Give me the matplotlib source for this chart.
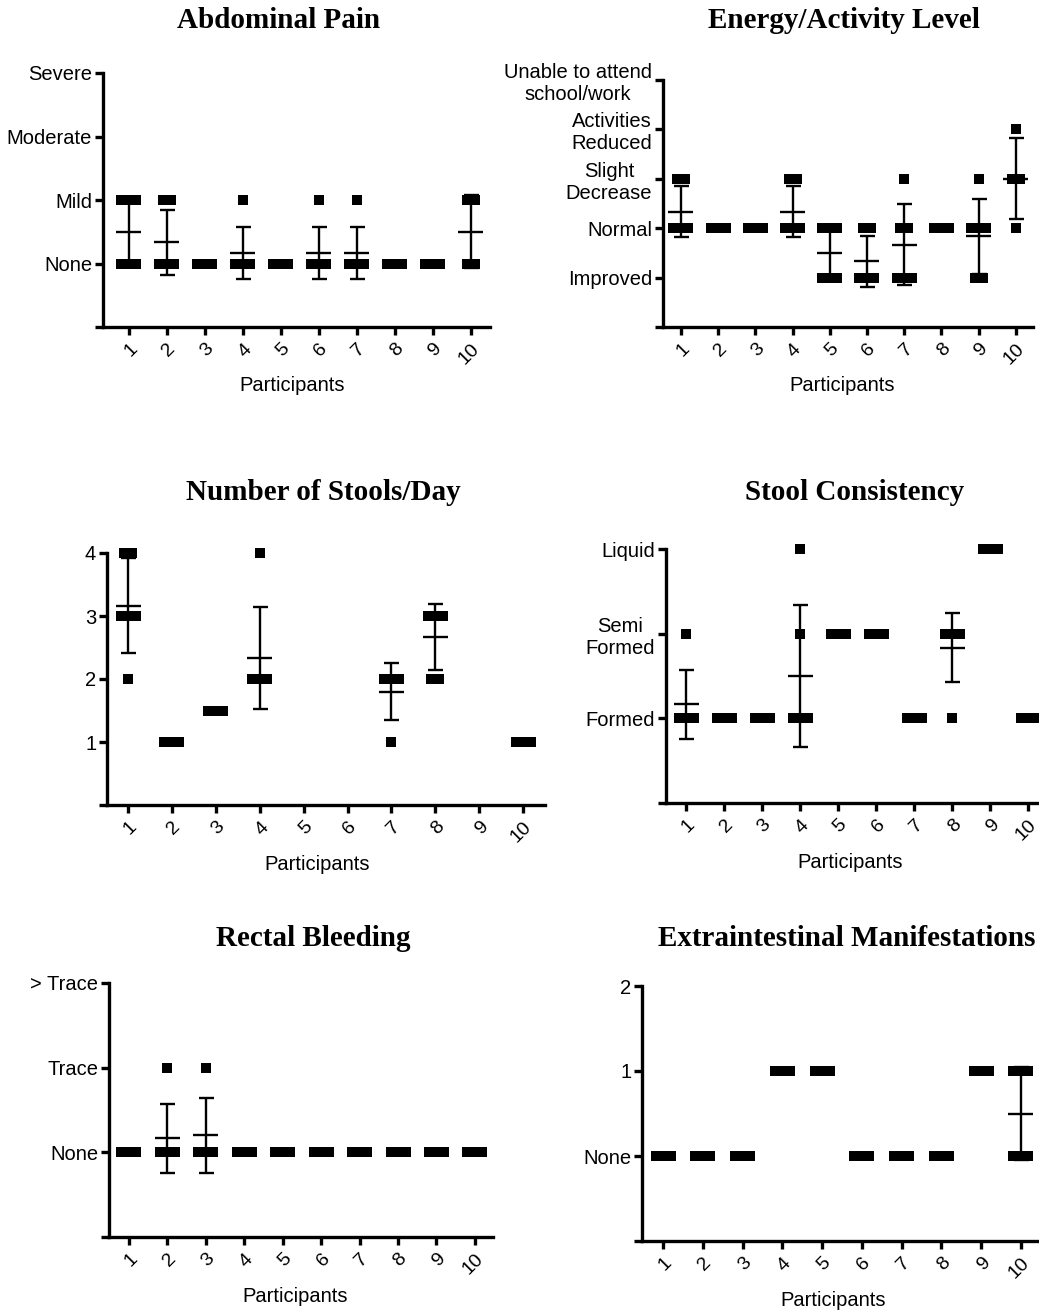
#!/usr/bin/env python3
"""Six symptom panels: score per participant, squares with mean +/- SD."""

import matplotlib

matplotlib.use("Agg")
import matplotlib.pyplot as plt
import numpy as np

W, H = 1039, 1313

PARTICIPANTS = [str(i) for i in range(1, 11)]

# scores per participant (one list per participant, one entry per visit)
abdominal_pain = [
    [1, 1, 1, 0, 0, 0],
    [1, 1, 0, 0, 0, 0],
    [0, 0, 0, 0, 0, 0],
    [1, 0, 0, 0, 0, 0],
    [0, 0, 0, 0, 0, 0],
    [1, 0, 0, 0, 0, 0],
    [1, 0, 0, 0, 0, 0],
    [0, 0, 0, 0, 0, 0],
    [0, 0, 0, 0, 0, 0],
    [1, 1, 0, 0],
]
abdominal_levels = ["None", "Mild", "Moderate", "Severe"]

energy_level = [
    [3, 3, 2, 2, 2, 2],
    [2, 2, 2, 2, 2, 2],
    [2, 2, 2, 2, 2, 2],
    [3, 3, 2, 2, 2, 2],
    [2, 2, 2, 1, 1, 1],
    [2, 2, 1, 1, 1, 1],
    [3, 2, 2, 1, 1, 1],
    [2, 2, 2, 2, 2, 2],
    [3, 2, 2, 2, 1, 1],
    [4, 3, 3, 2],
]
energy_levels = ["Improved", "Normal", "Slight\nDecrease", "Activities\nReduced",
                 "Unable to attend\nschool/work"]

stools_per_day = [
    [4, 4, 3, 3, 3, 2],
    [1, 1, 1, 1, 1, 1],
    [1.5, 1.5, 1.5, 1.5],
    [4, 2, 2, 2, 2, 2],
    [],
    [],
    [2, 2, 2, 2, 1],
    [3, 3, 3, 3, 2, 2],
    [],
    [1, 1, 1, 1, 1, 1],
]
stools_levels = ["1", "2", "3", "4"]

stool_consistency = [
    [2, 1, 1, 1, 1, 1],
    [1, 1, 1, 1, 1, 1],
    [1, 1, 1, 1, 1, 1],
    [3, 2, 1, 1, 1, 1],
    [2, 2, 2, 2, 2, 2],
    [2, 2, 2, 2, 2, 2],
    [1, 1, 1, 1, 1, 1],
    [2, 2, 2, 2, 2, 1],
    [3, 3, 3, 3, 3, 3],
    [1, 1, 1, 1, 1, 1],
]
consistency_levels = ["Formed", "Semi\nFormed", "Liquid"]

rectal_bleeding = [
    [1, 1, 1, 1, 1, 1],
    [2, 1, 1, 1, 1, 1],
    [2, 1, 1, 1, 1],
    [1, 1, 1, 1, 1, 1],
    [1, 1, 1, 1, 1, 1],
    [1, 1, 1, 1, 1, 1],
    [1, 1, 1, 1, 1, 1],
    [1, 1, 1, 1, 1, 1],
    [1, 1, 1, 1, 1, 1],
    [1, 1, 1, 1, 1, 1],
]
bleeding_levels = ["None", "Trace", "> Trace"]

extraintestinal = [
    [0, 0, 0, 0, 0, 0],
    [0, 0, 0, 0, 0, 0],
    [0, 0, 0, 0, 0, 0],
    [1, 1, 1, 1, 1, 1],
    [1, 1, 1, 1, 1, 1],
    [0, 0, 0, 0, 0, 0],
    [0, 0, 0, 0, 0, 0],
    [0, 0, 0, 0, 0, 0],
    [1, 1, 1, 1, 1, 1],
    [1, 1, 1, 0, 0, 0],
]
extra_levels = ["None", "1", "2"]

SANS = ["Liberation Sans", "Arial", "DejaVu Sans"]
SERIF = ["Liberation Serif", "Times New Roman", "DejaVu Serif"]

# box = plot area in output pixels (left, top, right, bottom)
PANELS = [
    dict(title="Abdominal Pain", data=abdominal_pain, levels=abdominal_levels,
         yvals=[0, 1, 2, 3], ylim=(-1, 3), box=(103, 73, 490, 327),
         xlim=(0.32, 10.5), title_xy=(279, 21), xlabel_xy=(292, 386)),
    dict(title="Energy/Activity Level", data=energy_level, levels=energy_levels,
         yvals=[1, 2, 3, 4, 5], ylim=(0, 5), box=(663, 80, 1033, 327),
         xlim=(0.52, 10.46), title_xy=(844, 21), xlabel_xy=(842, 386)),
    dict(title="Number of Stools/Day", data=stools_per_day, levels=stools_levels,
         yvals=[1, 2, 3, 4], ylim=(0, 4), box=(107, 553, 545, 805),
         xlim=(0.52, 10.5), title_xy=(323, 493), xlabel_xy=(317, 865)),
    dict(title="Stool Consistency", data=stool_consistency, levels=consistency_levels,
         yvals=[1, 2, 3], ylim=(0, 3), box=(666, 549, 1038, 803),
         xlim=(0.47, 10.26), title_xy=(855, 493), xlabel_xy=(850, 863)),
    dict(title="Rectal Bleeding", data=rectal_bleeding, levels=bleeding_levels,
         yvals=[1, 2, 3], ylim=(0, 3), box=(109, 983, 493, 1237),
         xlim=(0.48, 10.47), title_xy=(313, 938), xlabel_xy=(295, 1297)),
    dict(title="Extraintestinal Manifestations", data=extraintestinal, levels=extra_levels,
         yvals=[0, 1, 2], ylim=(-1, 2), box=(642, 986, 1038, 1241),
         xlim=(0.47, 10.43), title_xy=(847, 938), xlabel_xy=(833, 1300)),
]


def draw_panel(fig, p):
    L, T, R, B = p["box"]
    ax = fig.add_axes([L / W, 1 - B / H, (R - L) / W, (B - T) / H])
    x0, x1 = p["xlim"]
    ppu = (R - L) / (x1 - x0)  # pixels per participant step

    for i, vals in enumerate(p["data"]):
        vals = np.asarray(vals, dtype=float)
        if vals.size == 0:
            continue
        x = i + 1
        # spread identical scores sideways, like a column scatter
        for level in np.unique(vals):
            n = int(np.sum(vals == level))
            half = min((n - 1) * 4.0, 7.5) / ppu
            xs = x + np.linspace(-half, half, n)
            ax.plot(xs, [level] * n, "s", color="black", ms=7.9, mew=0,
                    clip_on=False, zorder=3)
        mean = vals.mean()
        sd = vals.std(ddof=1) if vals.size > 1 else 0.0
        ax.plot([x - 12.5 / ppu, x + 12.5 / ppu], [mean, mean], color="black",
                lw=1.7, solid_capstyle="butt", clip_on=False, zorder=4)
        if sd > 0:
            ax.errorbar(x, mean, yerr=sd, fmt="none", ecolor="black",
                        elinewidth=1.7, capsize=5.4, capthick=1.7, zorder=4)

    ax.set_xlim(x0, x1)
    ax.set_ylim(*p["ylim"])
    ax.set_xticks(range(1, 11))
    ax.set_xticklabels(PARTICIPANTS, rotation=45, ha="right", va="top",
                       rotation_mode="anchor", fontsize=14)
    ax.set_yticks([p["ylim"][0]] + p["yvals"])
    ax.set_yticklabels([""] + p["levels"], fontsize=14.5)
    for lbl in ax.get_yticklabels():
        lbl.set_multialignment("center")

    for side in ("top", "right"):
        ax.spines[side].set_visible(False)
    for side in ("left", "bottom"):
        ax.spines[side].set_linewidth(2.4)
    ax.tick_params(axis="both", width=2.4, length=5.8, direction="out")
    ax.tick_params(axis="y", pad=2)
    ax.tick_params(axis="x", pad=4)

    ax.set_xlabel("Participants", fontsize=14.5)
    lx, ly = p["xlabel_xy"]
    ax.xaxis.set_label_coords((lx - L) / (R - L), (B - ly) / (B - T))
    ax.xaxis.label.set_va("center")

    tx, ty = p["title_xy"]
    fig.text(tx / W, 1 - ty / H, p["title"], ha="center", va="center",
             family=SERIF, fontweight="bold", fontsize=21)
    return ax


def main():
    plt.rcParams["font.family"] = SANS
    fig = plt.figure(figsize=(W / 100, H / 100), dpi=100)
    for p in PANELS:
        draw_panel(fig, p)
    fig.savefig("out.png", dpi=100)
    plt.close(fig)


if __name__ == "__main__":
    main()
